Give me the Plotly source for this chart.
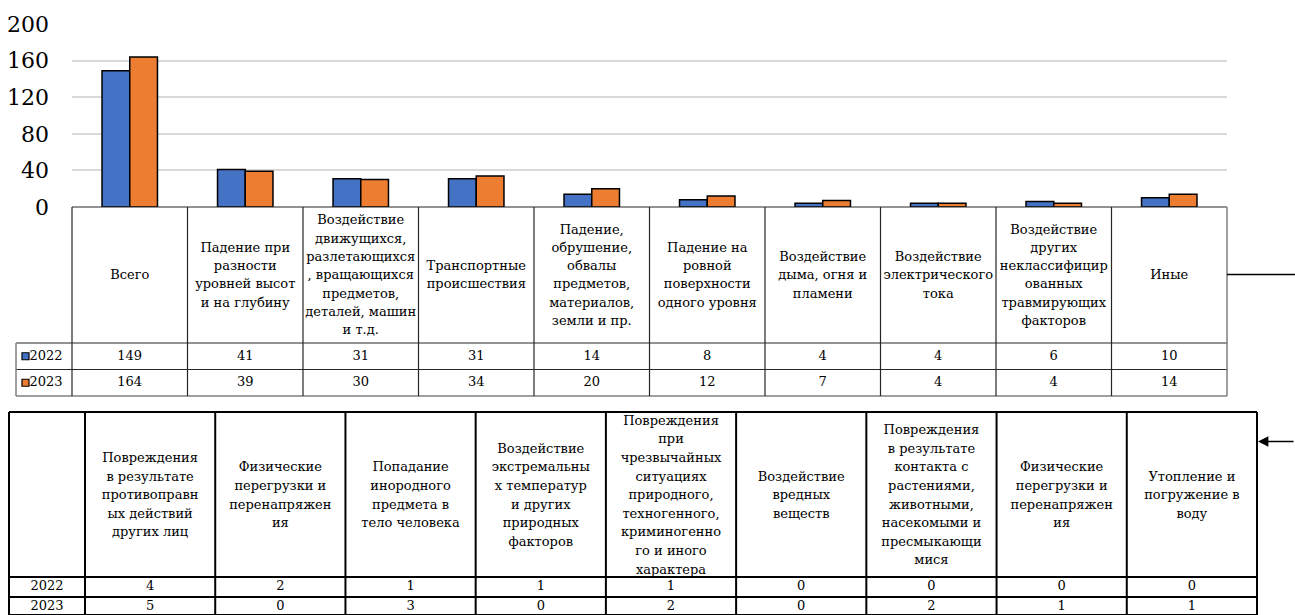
import plotly.graph_objects as go

# ---------------- data ----------------
categories_top = [
    "Всего",
    "Падение при\nразности\nуровней высот\nи на глубину",
    "Воздействие\nдвижущихся,\nразлетающихся\n, вращающихся\nпредметов,\nдеталей, машин\nи т.д.",
    "Транспортные\nпроисшествия",
    "Падение,\nобрушение,\nобвалы\nпредметов,\nматериалов,\nземли и пр.",
    "Падение на\nровной\nповерхности\nодного уровня",
    "Воздействие\nдыма, огня и\nпламени",
    "Воздействие\nэлектрического\nтока",
    "Воздействие\nдругих\nнеклассифицир\nованных\nтравмирующих\nфакторов",
    "Иные",
]
values_2022 = [149, 41, 31, 31, 14, 8, 4, 4, 6, 10]
values_2023 = [164, 39, 30, 34, 20, 12, 7, 4, 4, 14]
series_names = ["2022", "2023"]
y_ticks = [0, 40, 80, 120, 160, 200]

categories_bottom = [
    "Повреждения\nв результате\nпротивоправн\nых действий\nдругих лиц",
    "Физические\nперегрузки и\nперенапряжен\nия",
    "Попадание\nинородного\nпредмета в\nтело человека",
    "Воздействие\nэкстремальны\nх температур\nи других\nприродных\nфакторов",
    "Повреждения\nпри\nчрезвычайных\nситуациях\nприродного,\nтехногенного,\nкриминогенно\nго и иного\nхарактера",
    "Воздействие\nвредных\nвеществ",
    "Повреждения\nв результате\nконтакта с\nрастениями,\nживотными,\nнасекомыми и\nпресмыкающи\nмися",
    "Физические\nперегрузки и\nперенапряжен\nия",
    "Утопление и\nпогружение в\nводу",
]
bottom_2022 = [4, 2, 1, 1, 1, 0, 0, 0, 0]
bottom_2023 = [5, 0, 3, 0, 2, 0, 2, 1, 1]

colors = ["#4472C4", "#ED7D31"]
FONT = "DejaVu Serif"
TXT = 13

# ---------------- layout helpers (pixel -> paper) ----------------
W, H = 1295, 615


def X(px):
    return px / W


def Y(py):
    return 1 - py / H


shapes = []
txt_center = {"x": [], "y": [], "t": []}
txt_left = {"x": [], "y": [], "t": []}


def hline(x0, x1, y, color="black", width=1):
    shapes.append(dict(type="line", xref="paper", yref="paper",
                       x0=X(x0), x1=X(x1), y0=Y(y), y1=Y(y),
                       line=dict(color=color, width=width)))


def vline(x, y0, y1, color="black", width=1):
    shapes.append(dict(type="line", xref="paper", yref="paper",
                       x0=X(x), x1=X(x), y0=Y(y0), y1=Y(y1),
                       line=dict(color=color, width=width)))


def text(px, py, s, store=txt_center):
    store["x"].append(px)
    store["y"].append(py)
    store["t"].append(s)


def cell_lines(cx, cy, s, pitch):
    lines = s.split("\n")
    n = len(lines)
    for i, ln in enumerate(lines):
        text(cx, cy + (i - (n - 1) / 2) * pitch, ln)


# ---------------- chart ----------------
PL, PR = 72, 1227      # plot area left/right
PT, PB = 24, 207       # y=200 and y=0 pixel rows

fig = go.Figure()
xs = list(range(len(categories_top)))
for name, vals, c in zip(series_names, [values_2022, values_2023], colors):
    fig.add_trace(go.Bar(x=xs, y=vals, name=name,
                         marker=dict(color=c, line=dict(color="black", width=1.5))))

# ---------------- top data table ----------------
n = len(categories_top)
cw = (PR - PL) / n
row1, row2, row3 = 343, 369.5, 396
LEFT = 16
hline(PL, PR, PB, "#262626", 1.2)
hline(LEFT, PR, row1, "#262626", 1.2)
hline(LEFT, PR, row2, "#262626", 1.2)
hline(LEFT, PR, row3, "#7f7f7f", 1.5)
vline(LEFT, row1, row3, "#7f7f7f", 1.5)
for k in range(n + 1):
    vline(PL + k * cw, PB, row3, "#7f7f7f" if k == n else "#262626", 1.5 if k == n else 1.2)
for k in range(n):
    cx = PL + (k + 0.5) * cw
    cell_lines(cx, 276, categories_top[k], 18.3)
    text(cx, (row1 + row2) / 2, str(values_2022[k]))
    text(cx, (row2 + row3) / 2, str(values_2023[k]))
# legend keys + series names
for i, (name, c) in enumerate(zip(series_names, colors)):
    cy = (row1 + row2) / 2 if i == 0 else (row2 + row3) / 2
    shapes.append(dict(type="rect", xref="paper", yref="paper",
                       x0=X(22), x1=X(29), y0=Y(cy - 3.5), y1=Y(cy + 3.5),
                       fillcolor=c, line=dict(color="black", width=1.2)))
    text(29.5, cy, name, store=txt_left)

# ---------------- bottom table ----------------
BL, BT, BH, BR1, BR2 = 9, 412, 577, 597, 615
first_w = 76
bcw = (1257 - (BL + first_w)) / len(categories_bottom)
bx = [BL] + [BL + first_w + k * bcw for k in range(len(categories_bottom) + 1)]
for y in [BT, BH, BR1, BR2]:
    hline(BL, bx[-1], y, "black", 2)
for x in bx:
    vline(x, BT, BR2, "black", 2)
text((bx[0] + bx[1]) / 2, (BH + BR1) / 2, series_names[0])
text((bx[0] + bx[1]) / 2, (BR1 + BR2) / 2 + 1, series_names[1])
for k in range(len(categories_bottom)):
    cx = (bx[k + 1] + bx[k + 2]) / 2
    cell_lines(cx, 496, categories_bottom[k], 18.6)
    text(cx, (BH + BR1) / 2, str(bottom_2022[k]))
    text(cx, (BR1 + BR2) / 2 + 1, str(bottom_2023[k]))

# table text drawn as text traces on a full-page pixel axis pair
for store, pos in [(txt_center, "middle center"), (txt_left, "middle right")]:
    fig.add_trace(go.Scatter(x=store["x"], y=store["y"], text=store["t"],
                             mode="text", textposition=pos,
                             textfont=dict(family=FONT, size=TXT, color="black"),
                             xaxis="x2", yaxis="y2", hoverinfo="skip",
                             cliponaxis=False, showlegend=False))

# ---------------- connector lines ----------------
hline(PR, W + 2, 274.5, "black", 1.3)
arrow = [dict(xref="paper", yref="paper", x=X(1258), y=Y(441.5),
              ax=W + 2 - 1258, ay=0, axref="pixel", ayref="pixel",
              text="", showarrow=True, arrowhead=2, arrowsize=1.6,
              arrowwidth=1.3, arrowcolor="black")]

fig.update_layout(
    width=W, height=H,
    margin=dict(l=0, r=0, t=0, b=0, pad=0),
    paper_bgcolor="white", plot_bgcolor="rgba(0,0,0,0)",
    showlegend=False,
    font=dict(family=FONT, color="black"),
    barmode="group", bargap=0.52, bargroupgap=0,
    xaxis=dict(domain=[X(PL), X(PR)], range=[-0.5, n - 0.5],
               showticklabels=False, showgrid=False, zeroline=False,
               showline=False, ticks="", automargin=False),
    yaxis=dict(domain=[Y(PB), Y(PT)], range=[0, 200], tickvals=y_ticks,
               showgrid=True, gridcolor="#d9d9d9", gridwidth=1.5,
               zeroline=False, showline=False, ticks="", automargin=False,
               tickfont=dict(family=FONT, size=22, color="black"),
               ticklabelstandoff=22),
    xaxis2=dict(domain=[0, 1], range=[0, W], visible=False, anchor="y2",
                automargin=False, fixedrange=True),
    yaxis2=dict(domain=[0, 1], range=[H, 0], visible=False, anchor="x2",
                automargin=False, fixedrange=True),
    shapes=shapes, annotations=arrow,
)

fig.write_html(
    "out.html",
    config={"displayModeBar": False},
    post_script="document.body.style.margin='0';document.body.style.overflow='hidden';",
)
